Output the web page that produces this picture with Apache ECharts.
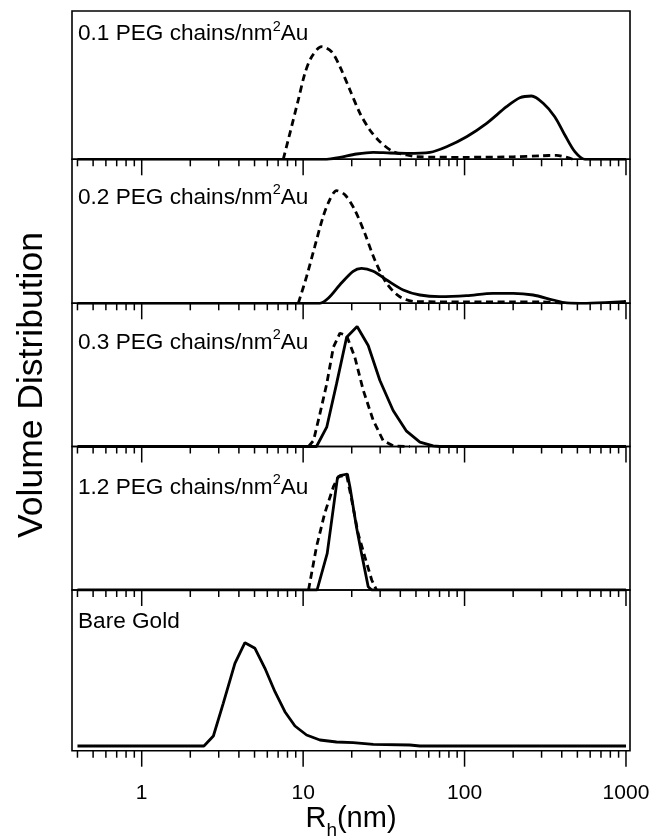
<!DOCTYPE html>
<html>
<head>
<meta charset="utf-8">
<script src="https://cdn.jsdelivr.net/npm/echarts@6/dist/echarts.min.js"></script>
<style>
  html, body { margin: 0; padding: 0; background: #fff; }
  #chart { width: 652px; height: 837px; }
</style>
</head>
<body>
<div id="chart"></div>
<script>
// Rh (nm) and volume distribution (arbitrary units)
// panel 1 : 0.1 PEG chains/nm2 Au
const r1Solid = [0.4, 14, 16.9, 21.4, 27.2, 34.5, 43.7, 61, 77.4, 103, 137, 182, 220, 260, 307, 362, 418, 482, 556, 1000]
const v1Solid = [0, 0, 2, 5.3, 7, 6.3, 6, 7, 12.6, 22.6, 36, 52.6, 61.6, 63.3, 56, 42.6, 24.3, 7.6, 0, 0]
const r1Dash = [7.53, 8.28, 9.33, 10.26, 11.3, 13.0, 15.0, 16.9, 19.5, 22.5, 25.9, 29.9, 36.1, 43.7, 50.4, 100, 200, 300, 371, 467]
const v1Dash = [0, 26, 59.3, 86, 102.6, 112.6, 107.6, 92.6, 69.3, 46, 29.3, 17.6, 7.6, 4.3, 2.6, 2, 2.5, 3.5, 4, 0]

// panel 2 : 0.2 PEG chains/nm2 Au
const r2Solid = [0.4, 12.7, 14.3, 16.9, 20.4, 23, 27.2, 32.9, 41.7, 52.9, 70.3, 103, 150, 200, 266, 354, 428, 569, 960, 1000]
const v2Solid = [0, 0, 5, 18.6, 32, 35, 32, 23.3, 13.3, 8.3, 6.6, 7.6, 10, 10, 8.3, 3.3, 0.5, 0, 1.6, 2]
const r2Dash = [9.33, 10.5, 11.8, 13.3, 14.6, 16.1, 18.2, 20.9, 24.1, 27.8, 32.9, 39.7, 50.4, 100, 200, 300, 400]
const v2Dash = [0, 26.6, 56.6, 86.6, 103.3, 112.6, 108.3, 93.3, 70, 43.3, 20, 6.6, 1.6, 1.5, 1.5, 1.5, 0]

// panel 3 : 0.3 PEG chains/nm2 Au
const r3Solid = [0.4, 12.1, 14.0, 16.1, 18.6, 21.6, 25.3, 29.9, 36.1, 43.7, 52.9, 63.9, 70.3, 1000]
const v3Solid = [0, 0, 19.3, 62.6, 109.3, 120, 101, 66, 36, 15.3, 4.3, 0.6, 0, 0]
const r3Dash = [10.8, 11.6, 12.7, 14.0, 15.4, 16.9, 18.6, 20.9, 23.6, 27.2, 31.3, 36.1, 45.8]
const v3Dash = [0, 6, 32.6, 62.6, 99.3, 113.3, 111, 89.3, 56, 26, 6, 0.6, 0]

// panel 4 : 1.2 PEG chains/nm2 Au
const r4Solid = [0.4, 12.2, 14.1, 16.3, 16.9, 18.8, 19.5, 21.4, 23.0, 25.3, 26.6, 1000]
const v4Solid = [0, 0, 36.6, 111.6, 114.3, 116, 103, 63, 36.6, 3.3, 0, 0]
const r4Dash = [10.8, 12.1, 13.6, 15.4, 16.5, 18.6, 20.0, 21.9, 24.1, 26.6, 28.5]
const v4Dash = [0, 43.3, 76.6, 103.3, 113.3, 115, 90, 56.6, 33.3, 10, 0]

// panel 5 : bare gold
const r5Solid = [0.4, 2.43, 2.78, 3.2, 3.78, 4.36, 5.03, 5.8, 6.69, 7.71, 8.9, 10.5, 12.7, 16.1, 20.4, 27.2, 45.8, 52.9, 1000]
const v5Solid = [0, 0, 10, 42.7, 82.7, 103.3, 97.7, 77.7, 54.3, 34.3, 20, 11, 6, 4, 3.3, 1.7, 1, 0, 0]

const panelLabels = [
  '0.1 PEG chains/nm{sup|2}Au',
  '0.2 PEG chains/nm{sup|2}Au',
  '0.3 PEG chains/nm{sup|2}Au',
  '1.2 PEG chains/nm{sup|2}Au',
  'Bare Gold'
]
const xTicks = [
  0.4, 0.5, 0.6, 0.7, 0.8, 0.9, 1,
  2, 3, 4, 5, 6, 7, 8, 9, 10,
  20, 30, 40, 50, 60, 70, 80, 90, 100,
  200, 300, 400, 500, 600, 700, 800, 900, 1000
]
const yMin = [0, 0, 0, 0, -4.7]
const yMax = [148.3, 144, 143.2, 143.5, 156]

const solids = [
  [r1Solid, v1Solid], [r2Solid, v2Solid], [r3Solid, v3Solid], [r4Solid, v4Solid], [r5Solid, v5Solid]
]
const dashes = [
  [r1Dash, v1Dash], [r2Dash, v2Dash], [r3Dash, v3Dash], [r4Dash, v4Dash], null
]

// layout
const FONT = '"Liberation Sans", Arial, sans-serif'
const gridTops = [11, 159.3, 303.3, 446.5, 590]
const gridHeights = [148.3, 144, 143.2, 143.5, 160.7]
const labelY = [34.2, 197.5, 342.5, 487.5, 621.8]

function zip(xs, ys) {
  return xs.map((x, i) => [x, ys[i]])
}

function isMajor(v) {
  const l = Math.log10(v)
  return Math.abs(l - Math.round(l)) < 1e-9
}

const grid = gridTops.map((top, i) => ({
  left: 72,
  width: 558,
  top: top,
  height: gridHeights[i],
  outerBoundsMode: 'none',
  containLabel: false,
  show: true,
  borderColor: '#000',
  borderWidth: 1.6,
  backgroundColor: 'transparent'
}))

const xAxis = gridTops.map((_, i) => {
  const last = i === gridTops.length - 1
  return {
    type: 'log',
    logBase: 10,
    gridIndex: i,
    min: 0.37,
    max: 1059,
    axisLine: { show: false },
    axisTick: { show: false },
    splitLine: { show: false },
    axisLabel: {
      show: last,
      margin: 32,
      color: '#000',
      fontSize: 21,
      fontFamily: FONT,
      showMinLabel: false,
      showMaxLabel: false,
      formatter: v => (isMajor(v) ? String(Math.round(v)) : '')
    },
    name: last ? '{r|R}{h|h}{r|(nm)}' : '',
    nameLocation: 'middle',
    nameGap: 47,
    nameTextStyle: {
      color: '#000',
      fontFamily: FONT,
      rich: {
        r: { fontSize: 29, fontFamily: FONT, color: '#000', lineHeight: 34, verticalAlign: 'top' },
        h: { fontSize: 19, fontFamily: FONT, color: '#000', lineHeight: 34, verticalAlign: 'bottom', padding: [0, 0, -2, 0] }
      }
    }
  }
})

const yAxis = gridTops.map((_, i) => ({
  type: 'value',
  gridIndex: i,
  min: yMin[i],
  max: yMax[i],
  show: false
}))

const series = []
solids.forEach((s, i) => {
  series.push({
    type: 'line',
    xAxisIndex: i,
    yAxisIndex: i,
    data: zip(s[0], s[1]),
    showSymbol: false,
    smooth: i < 2 ? 0.3 : false,
    lineStyle: { color: '#000', width: 2.8, type: 'solid' },
    z: 3
  })
  const d = dashes[i]
  if (d) {
    series.push({
      type: 'line',
      xAxisIndex: i,
      yAxisIndex: i,
      data: zip(d[0], d[1]),
      showSymbol: false,
      smooth: i < 2 ? 0.3 : false,
      lineStyle: { color: '#000', width: 2.8, type: [7, 4.5] },
      z: 3
    })
  }
  // log ticks hanging under every panel's axis
  series.push({
    type: 'custom',
    xAxisIndex: i,
    yAxisIndex: i,
    silent: true,
    clip: false,
    encode: { x: 0, y: 1 },
    data: xTicks.map(v => [v, yMin[i]]),
    renderItem: (params, api) => {
      const v = api.value(0)
      const p = api.coord([v, api.value(1)])
      const len = isMajor(v) ? 16 : 7
      return {
        type: 'line',
        shape: { x1: p[0], y1: p[1], x2: p[0], y2: p[1] + len },
        style: { stroke: '#000', lineWidth: 1.5 }
      }
    },
    z: 5
  })
})

const graphic = panelLabels.map((t, i) => ({
  type: 'text',
  x: 78,
  y: labelY[i],
  silent: true,
  style: {
    text: t,
    fill: '#000',
    fontSize: 22.6,
    fontFamily: FONT,
    lineHeight: 30,
    align: 'left',
    verticalAlign: 'middle',
    rich: {
      sup: { fontSize: 14.5, fontFamily: FONT, fill: '#000', lineHeight: 5, verticalAlign: 'top' }
    }
  }
}))
graphic.push({
  type: 'text',
  x: 32,
  y: 385,
  rotation: Math.PI / 2,
  silent: true,
  style: {
    text: 'Volume Distribution',
    fill: '#000',
    fontSize: 35.5,
    fontFamily: FONT,
    align: 'center',
    verticalAlign: 'middle'
  }
})

const chart = echarts.init(document.getElementById('chart'), null, { renderer: 'canvas' })
chart.setOption({
  animation: false,
  backgroundColor: '#fff',
  grid,
  xAxis,
  yAxis,
  series,
  graphic
})
</script>
</body>
</html>
